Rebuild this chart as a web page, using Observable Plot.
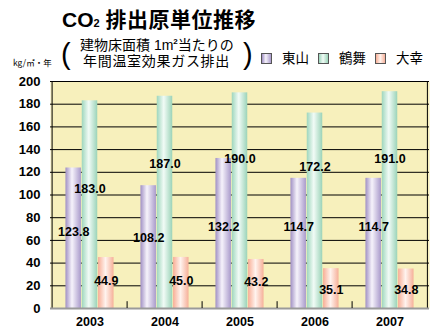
<!DOCTYPE html>
<html>
<head>
<meta charset="utf-8">
<script src="https://cdn.jsdelivr.net/npm/d3@7"></script>
<script src="https://cdn.jsdelivr.net/npm/@observablehq/plot@0.6"></script>
<style>
  html, body { margin: 0; padding: 0; background: #fff; }
  #wrap { position: relative; width: 430px; height: 328px; overflow: hidden; }
  #wrap svg.plot { position: absolute; left: 0; top: 0; }
  .abs { position: absolute; white-space: nowrap; line-height: 1; }
  .title { left: 62px; top: 8px; font-family: "Liberation Sans", "Noto Sans CJK JP", sans-serif; font-weight: bold; font-size: 21px; color: #000; }
  .title .cjk { font-family: "Noto Sans CJK JP", sans-serif; font-weight: bold; letter-spacing: 0.5px; }
  .unit { left: 13px; top: 58px; font-family: "Noto Sans CJK JP", sans-serif; font-size: 8.5px; color: #000; }
  .paren { font-family: "Liberation Sans", sans-serif; font-weight: normal; font-size: 29px; color: #000; }
  .sub { left: 80px; font-family: "Liberation Sans", "Noto Sans CJK JP", sans-serif; font-size: 14px; color: #000; }
  .sub sup { font-weight: bold; font-size: 8px; vertical-align: 6px; line-height: 0; }
  .key { width: 11px; height: 11px; border: 1px solid #555; box-sizing: border-box; }
  .keytext { font-family: "Noto Sans CJK JP", sans-serif; font-size: 13.5px; color: #000; }
</style>
</head>
<body>
<div id="wrap"></div>
<script>
// CO2 emissions per unit floor area, three sites, 2003–2007
const years = ["2003", "2004", "2005", "2006", "2007"];
const seriesNames = ["東山", "鶴舞", "大幸"];
const higashiyama = [123.8, 108.2, 132.2, 114.7, 114.7];
const tsurumai = [183.0, 187.0, 190.0, 172.2, 191.0];
const daiko = [44.9, 45.0, 43.2, 35.1, 34.8];
// heights (in kg/㎡·年) at which each value label is anchored
const higashiyamaLabelAt = [67, 62.5, 71.5, 71.5, 71.5];
const tsurumaiLabelAt = [105.5, 127, 132, 125, 132];
const daikoLabelAt = [23.8, 23.8, 23, 16.7, 16.7];
const yTicks = [0, 20, 40, 60, 80, 100, 120, 140, 160, 180, 200];

const series = [
  {name: seriesNames[0], values: higashiyama, labelAt: higashiyamaLabelAt, grad: "gPurple",
   stops: [["0%", "#a090c4"], ["42%", "#f6f3fb"], ["100%", "#a99acb"]]},
  {name: seriesNames[1], values: tsurumai, labelAt: tsurumaiLabelAt, grad: "gGreen",
   stops: [["0%", "#9ed6bc"], ["45%", "#f1fbf6"], ["100%", "#9bd3b8"]]},
  {name: seriesNames[2], values: daiko, labelAt: daikoLabelAt, grad: "gRed",
   stops: [["0%", "#f8ae95"], ["48%", "#fff3ee"], ["100%", "#f6b099"]]}
];

const W = 430, H = 328;
const mLeft = 50, mRight = 1, mTop = 81, mBottom = 20;
const bw = (W - mLeft - mRight) / years.length;   // width of one year band
const barW = 16.3;                                 // width of one bar
const off = (bw - 3 * barW) / 2;                   // gap before first bar in a band

const rows = series.map(s => years.map((year, i) => ({year, value: s.values[i], labelAt: s.labelAt[i]})));

const marks = [
  Plot.frame({fill: "#f7f0bc", stroke: null}),
  Plot.ruleY(yTicks.filter(t => t > 0), {stroke: "#000", strokeWidth: 1}),
];
series.forEach((s, k) => {
  marks.push(Plot.barY(rows[k], {
    x: "year", y: "value", fill: `url(#${s.grad})`,
    insetLeft: off + k * barW, insetRight: bw - off - (k + 1) * barW
  }));
});
marks.push(
  Plot.ruleX([0], {x: () => years[0], dx: -bw / 2, y1: 0, y2: 200, stroke: "#000"}),
  Plot.ruleX([0], {x: () => years[years.length - 1], dx: bw / 2 - 0.5, y1: 0, y2: 200, stroke: "#000"}),
  Plot.ruleY([0], {stroke: "#9a9a9a", strokeWidth: 2}),
  Plot.ruleX(years.slice(1), {x: d => d, dx: -bw / 2, y1: 0, y2: 6, stroke: "#000"})
);
series.forEach((s, k) => {
  marks.push(Plot.text(rows[k], {
    x: "year", y: "labelAt", text: d => d.value.toFixed(1), dx: (k - 1) * barW,
    fontSize: 12.5, fontWeight: "bold", fill: "#000"
  }));
});

const chart = Plot.plot({
  width: W, height: H,
  marginLeft: mLeft, marginRight: mRight, marginTop: mTop, marginBottom: mBottom,
  style: {fontFamily: "'Liberation Sans', Arial, sans-serif", background: "transparent", overflow: "visible"},
  x: {type: "band", domain: years, padding: 0, label: null},
  y: {domain: [0, 200], label: null},
  marks: [
    ...marks,
    Plot.axisX({tickSize: 0, tickPadding: 9, fontSize: 12.5, fontWeight: "bold", label: null}),
    Plot.axisY(yTicks, {tickSize: 0, tickPadding: 10, fontSize: 13, fontWeight: "bold", label: null})
  ]
});
chart.classList.add("plot");

// cylinder-style shading for the bars
const defs = d3.select(chart).insert("defs", ":first-child");
series.forEach(s => {
  const g = defs.append("linearGradient").attr("id", s.grad).attr("x1", 0).attr("x2", 1).attr("y1", 0).attr("y2", 0);
  s.stops.forEach(([o, c]) => g.append("stop").attr("offset", o).attr("stop-color", c));
});

const wrap = document.getElementById("wrap");
wrap.appendChild(chart);

// heading, unit note, explanatory bracket and key
const html = `
  <div class="abs title">CO<span style="font-size:11px">2</span> <span class="cjk">排出原単位推移</span></div>
  <div class="abs unit">kg/㎡・年</div>
  <div class="abs paren" style="left:61px;top:39.6px">(</div>
  <div class="abs paren" style="left:243px;top:39.6px">)</div>
  <div class="abs sub" style="top:38px">建物床面積 1m<sup>2</sup>当たりの</div>
  <div class="abs sub" style="top:54px;left:83px;letter-spacing:0.7px">年間温室効果ガス排出</div>
  ${series.map((s, k) => {
    const kx = [261, 318, 375][k];
    const st = s.stops.map(([o, c]) => `${c} ${o}`).join(",");
    return `<div class="abs key" style="left:${kx}px;top:53px;background:linear-gradient(to right,${st})"></div>
            <div class="abs keytext" style="left:${kx + 21}px;top:51px">${s.name}</div>`;
  }).join("")}
`;
wrap.insertAdjacentHTML("beforeend", html);
</script>
</body>
</html>
